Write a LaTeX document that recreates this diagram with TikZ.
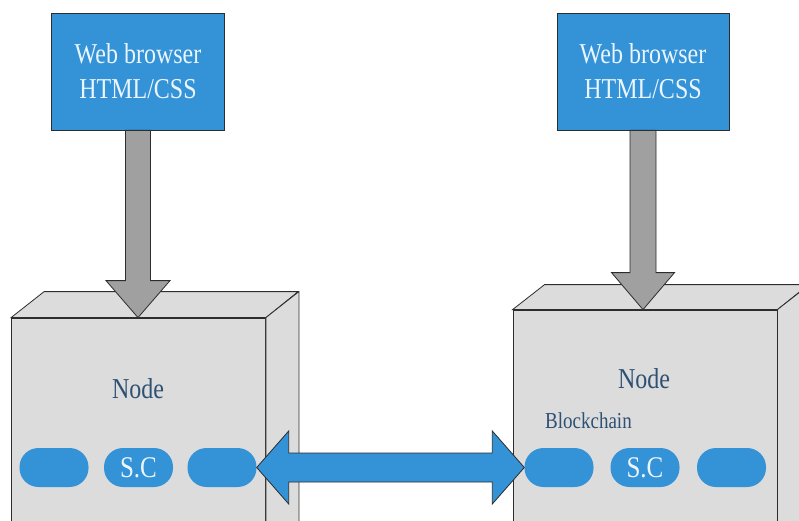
\documentclass[tikz,border=0pt]{standalone}
\usepackage{fontspec}
\setmainfont{Liberation Serif}
\usepackage{graphicx}
\usepackage{tikz}
\usetikzlibrary{positioning,calc}
\definecolor{webblue}{RGB}{52,146,214}
\definecolor{cubegray}{RGB}{220,220,220}
\definecolor{bargray}{RGB}{160,160,160}
\definecolor{edgegray}{RGB}{45,45,45}
\definecolor{nodetext}{RGB}{45,80,115}
\definecolor{lighttext}{RGB}{235,245,255}
\newcommand{\tallbox}[1]{\scalebox{1}[1.2]{#1}}

\begin{document}
\begin{tikzpicture}[x=1pt, y=-1pt,
    browser/.style={draw=edgegray, fill=webblue, text=lighttext, align=center, line width=0.8pt,
        minimum width=173pt, minimum height=117pt, inner sep=0pt, font=\fontsize{24}{35}\selectfont},
    cubeface/.style={draw=edgegray, fill=cubegray, line width=0.8pt},
    pill/.style={fill=webblue, rounded corners=19pt, minimum width=69pt, minimum height=39pt,
        inner sep=0pt, text=lighttext, font=\fontsize{25}{30}\selectfont},
    graybar/.style={draw=edgegray, fill=bargray, line width=0.8pt},
    bluebar/.style={draw=edgegray, fill=webblue, line width=0.8pt, line join=miter}]
    \useasboundingbox (0,0) rectangle (799,521);
    \clip (0,0) rectangle (799,521);
    \fill[white] (0,0) rectangle (799,521);

    % Browsers
    \node[browser] (browserL) at (138,71.5) {\tallbox{Web browser}\\\tallbox{HTML/CSS}};
    \node[browser, minimum width=172pt] (browserR) at (643,71.5) {\tallbox{Web browser}\\\tallbox{HTML/CSS}};

    % Left node cube
    \node[cubeface, minimum width=254pt, minimum height=230pt] (cubeL) at (138.5,433) {};
    \draw[cubeface] (cubeL.north west) -- ++(33,-26) -- ++(254,0) -- (cubeL.north east) -- cycle;
    \draw[cubeface] (cubeL.north east) -- ++(33,-26) -- ++(0,230) -- (cubeL.south east) -- cycle;
    \node[text=nodetext, font=\fontsize{24}{28}\selectfont] (nodeL) at (138,389) {\tallbox{Node}};

    % Right node cube
    \node[cubeface, minimum width=264pt, minimum height=240pt] (cubeR) at (645,430) {};
    \draw[cubeface] (cubeR.north west) -- ++(32,-25) -- ++(264,0) -- (cubeR.north east) -- cycle;
    \draw[cubeface] (cubeR.north east) -- ++(32,-25) -- ++(0,240) -- (cubeR.south east) -- cycle;
    \node[text=nodetext, font=\fontsize{24}{28}\selectfont] (nodeR) at (644,379) {\tallbox{Node}};
    \node[text=nodetext, font=\fontsize{19}{22}\selectfont, anchor=west, inner sep=0pt] (chain) at (545,421) {\tallbox{Blockchain}};

    % Contract pills
    \node[pill] (pL1) at (54,467.5) {};
    \node[pill] (pL2) at (138.5,467.5) {\tallbox{S.C}};
    \node[pill] (pL3) at (222,467.5) {};
    \node[pill] (pR1) at (559,467.5) {};
    \node[pill] (pR2) at (645,467.5) {\tallbox{S.C}};
    \node[pill] (pR3) at (731.5,467.5) {};

    % Browser to node arrows
    \coordinate (tipL) at (browserL.south |- cubeL.north);
    \coordinate (tipR) at (browserR.south |- cubeR.north);
    \draw[graybar] ($(browserL.south)+(-12.5,0)$) -- ($(tipL)+(-12.5,-37)$) -- ($(tipL)+(-32,-37)$) -- (tipL)
        -- ($(tipL)+(32,-37)$) -- ($(tipL)+(12.5,-37)$) -- ($(browserL.south)+(12.5,0)$) -- cycle;
    \draw[graybar] ($(browserR.south)+(-13,0)$) -- ($(tipR)+(-13,-37)$) -- ($(tipR)+(-31.5,-37)$) -- (tipR)
        -- ($(tipR)+(31.5,-37)$) -- ($(tipR)+(13,-37)$) -- ($(browserR.south)+(13,0)$) -- cycle;

    % Node to node link
    \draw[bluebar] (pL3.east) -- ($(pL3.east)+(32,-36.5)$) -- ($(pL3.east)+(32,-14.5)$)
        -- ($(pR1.west)+(-32,-14.5)$) -- ($(pR1.west)+(-32,-36.5)$) -- (pR1.west)
        -- ($(pR1.west)+(-32,36.5)$) -- ($(pR1.west)+(-32,14.5)$)
        -- ($(pL3.east)+(32,14.5)$) -- ($(pL3.east)+(32,36.5)$) -- cycle;
\end{tikzpicture}
\end{document}
